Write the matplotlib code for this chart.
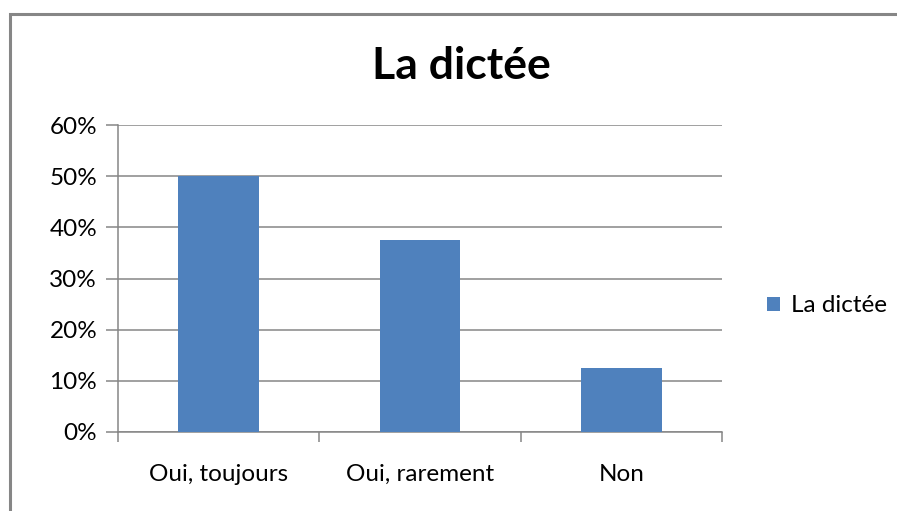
import matplotlib
matplotlib.use("Agg")
import matplotlib.pyplot as plt
from matplotlib.patches import Rectangle
from matplotlib.ticker import FuncFormatter

categories = ["Oui, toujours", "Oui, rarement", "Non"]
values = [0.50, 0.375, 0.125]
series_name = "La dictée"
title = "La dictée"
yticks = [0, 0.1, 0.2, 0.3, 0.4, 0.5, 0.6]

plt.rcParams['font.family'] = ['Lato', 'DejaVu Sans']

W, H = 897, 511
fig = plt.figure(figsize=(W / 100, H / 100), dpi=100)
fig.patch.set_facecolor("white")

# Chart border (right and bottom edges fall outside the image)
fig.add_artist(Rectangle((9.5 / W, -0.02), 1.02, 1 - 13.5 / H + 0.02,
                         transform=fig.transFigure, fill=False,
                         edgecolor="#868686", linewidth=2.2))

ax = fig.add_axes([118 / W, 1 - 432 / H, (722 - 118) / W, (432 - 125) / H])
x = list(range(len(categories)))
bars = ax.bar(x, values, width=0.4, color="#4F81BD", label=series_name, zorder=3)

ax.set_xlim(-0.5, len(categories) - 0.5)
ax.set_ylim(0, 0.6)
ax.set_yticks(yticks)
ax.yaxis.set_major_formatter(FuncFormatter(lambda v, p: f"{v*100:.0f}%"))
ax.yaxis.grid(True, color="#868686", linewidth=1.1, zorder=0)
ax.set_axisbelow(True)

ax.set_xticks(x)
ax.set_xticklabels(categories)
ax.set_xticks([i - 0.5 for i in range(len(categories) + 1)], minor=True)
ax.tick_params(axis='x', which='major', length=0, pad=23, labelsize=17.5)
ax.tick_params(axis='x', which='minor', length=7, width=1.1, color="#868686", direction='out')
ax.tick_params(axis='y', length=9, width=1.1, color="#868686", labelsize=17.5, pad=6)

for s in ["top", "right"]:
    ax.spines[s].set_visible(False)
for s in ["left", "bottom"]:
    ax.spines[s].set_color("#868686")
    ax.spines[s].set_linewidth(1.1)

fig.text(461 / W, 1 - 66 / H, title, ha="center", va="center",
         fontsize=32, fontweight="bold")

leg = fig.legend(handles=[bars], labels=[series_name], loc="center left",
                 bbox_to_anchor=(745 / W, 1 - 306 / H), frameon=False,
                 fontsize=17.5, handlelength=0.55, handleheight=0.55,
                 handletextpad=0.45)

fig.savefig("out.png", dpi=100, facecolor="white")
